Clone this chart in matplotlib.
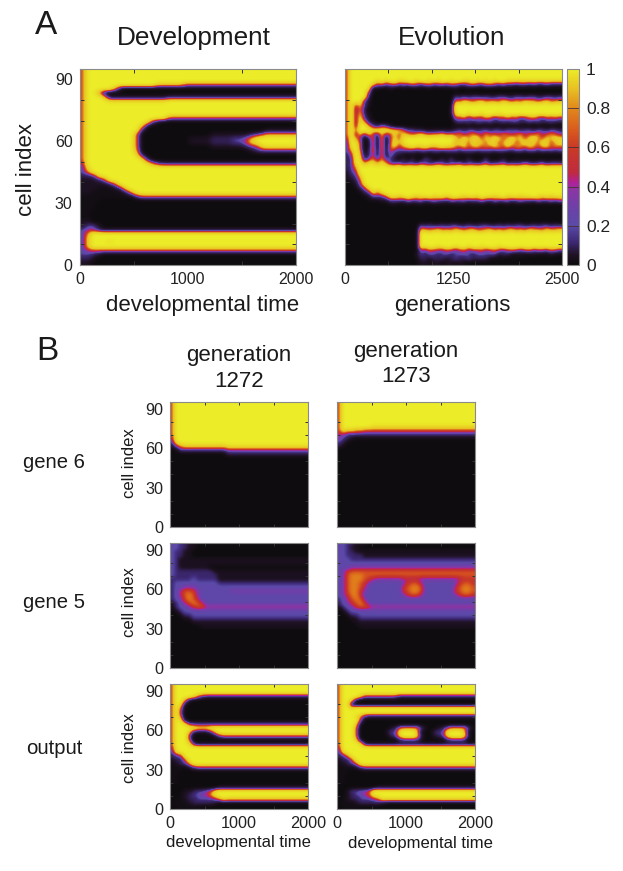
import matplotlib
matplotlib.use('Agg')
import matplotlib.pyplot as plt
import numpy as np
from matplotlib.cm import ScalarMappable
from matplotlib.colors import FuncNorm, LinearSegmentedColormap, Normalize

plt.rcParams['font.family'] = ['Liberation Sans', 'DejaVu Sans']

W, H = 623, 871

# heat maps: one string per row, top row first, a short row
# repeats its last level to the right. digits are d/9, '.' is a faint glow
dev_rows = [
    "5 9", "5 9", "5 9", "5 9",
    "5" + "9"*13 + "77777" + "5",
    "5 9 9 9 9 9 6 1 0",
    "5 9 9 6 1 0",
    "5 9 9 9 7" + "1"*11 + "2",
    "5 9 9 9 9" + "8"*11 + "9",
    "5 9", "5 9", "5 9",
    "5" + "9"*15 + "5",
    "5" + "9"*11 + "8 3 1 0",
    "5" + "9"*10 + "7 1 0",
    "5" + "9"*10 + "2" + "0"*22 + "1",
    "5" + "9"*9 + "5" + "0"*13 + "1"*7 + "2 3 4 6",
    "5" + "9"*9 + "5" + "0"*9 + "1"*4 + "2"*4 + "3 3 4 6 8 9",
    "5" + "9"*9 + "5" + "0"*9 + "1"*4 + "2"*4 + "3 3 4 7 8 9",
    "5" + "9"*9 + "5" + "0"*13 + "1"*6 + "2 3 4 7 8",
    "5" + "9"*9 + "6" + "0"*20 + "1 2 3",
    "5" + "9"*9 + "8 2 0",
    "5" + "9"*10 + "8 2 0",
    "4" + "9"*11 + "8 5 3 2",
    "3 8 9",
    "3 6 9",
    "2 2 3 8 9",
    "1 1 1 2 4 9",
    "1 1 1 1 1 2 5 9",
    "1 1 1 . . . 1 3 8 9",
    "1 1 . . . . . . 2 6 9",
    ". . . . . . . . . . 3 5",
    ". . . . 0", ". . . 0", ". . . 0", ". . 0", ". . 0",
    "1 1 0",
    "1 3 3 1 0",
    "3 4 4 2 1",
    "3 6 9",
    "3 7 9",
    "3 7 9 9 9 8 9",
    "3 7 9",
    "3 4 5",
    "3 3 2 1 0",
    "2 2 1 0",
    "1 1 0",
]

evo_rows = [
    "5 9", "5 9", "5 9",
    "5" + "9"*6 + "8 9 8 9 9 8 8 9 9 8 9 9 8 9 8 9 9 8 9 9 8 8 9 8 9 8 9 8 9 9 8",
    "5 9 9 9 9 9 7 4 5 3 4 5 3 4 3 5 4 3 4 5 3 4 4 3 5 4 3 3 4 5 4 3 5 5 4 3 4 3 3 2 3 3 2 3 2 2 3 2 2 2",
    "5 9 9 9 9 8 0 1 0 0 1 0 0 . 0 0 . 0 0 . 0 0 0 . 0 1 0 0 . 0 0",
    "5 9 9 9 9 4 0",
    "5 9 9 9 9 2" + "0"*19 + "3 2 3 2 3 3 2 3 2 2 3 3 2 2 3 3 2 3 3 2 2 3 3 2 3",
    "5 9 9 9 3 1" + "0"*19 + "6 5 7 6 5 6 7 5 6 6 5 7 6 5 6 5 7 6 6 5 6 7 5 6 6",
    "5 9 4 7 3 1" + "0"*18 + ". 9",
    "5 9 3 6 2 0" + "0"*18 + "1 9",
    "5 9 3 7 2 1" + "0"*18 + "1 8 9 9 8 9 9 8 9 9 9 8 9",
    "5 9 3 8 3 1" + "0"*18 + ". 5 4 6 3 5 4 4 6 5 3 5 4 6 4 5 3 4 5 6 4 3 5 4 5 4",
    "5 9 3 8 6 2 1" + "0"*18 + "2 3 2 3 2 3 3 2 3 2 2 3 2 3 3 2 2 3 2 3 2 2 3 2 2",
    "5 9 3 9 9 6 3 2 4 3 1" + "0"*14 + ". 0 . . 0 . 0 . . 0 . 0 . 0 . . 0",
    "5 9 5 9 9 9 8 9 8 9 8 7 7 5 3 3 2 2 1 1 1 1 1 1 1 2 3 2 3 3 2 3 3 2 3 3 2 3 3 3 2 3 3 2 3 3 2 3 3 2",
    "5 9 3 7 3 7 4 2 7 3 5 7 5 7 6 5 6 7 6 5 6 6 7 5 6 5 6 4 5 6 5 4 6 5 5 4 6 5 4 5 6 4 5 5 6 4 5 6 5 4",
    "4 9 6 4 0 2 6 0 7 0 5 7 5 8" + "9"*11 + "7 5 8 6 7 8 5 7 6 8 7 5 6 8 6 7 5 7 8 6 5 7 6 8 7",
    "3 9 8 5 0 1 6 0 7 0 5 8 6 8" + "9"*11 + "6 8 7 5 8 6 7 5 8 7 5 6 8 7 5 6 8 6 7 5 8 7 5 6 8",
    "3 8 9 5 0 1 6 0 7 0 6 7 4 6 7 8 7 7 8 7 6 7 8 7 7 6 5 7 5 6 7 5 6 5 7 6 5 7 5 6 6 5 7 6 5 6 7 5 6 5",
    "3 6 9 6 0 2 6 1 6 1 5 3 3 3 3 3 2 3 3 2 3 3 2 3 3 3 2 3 3 3 2 3 3 3 2 3 3 2 2 3 3 2 3 3 2 3 2 3 2 3",
    "2 4 9 7 1 2 5 1 6 1 4 2 1 . 0 . . 0 . 0 . . 0 . 0 . . 0 . 0",
    "2 3 9 8 2 4 6 3 6 3 3 1 . 2 . 2 . . 3 2 . . 2 . 3 . . . 2 . . . 3 . . . 2 . . 1 . . . . . .",
    "2 3 8 9 6 8 8 6 8 6 3 3 4 2 3 3 2 4 3 2 3 4 3 2 3 3 4 2 3 3 2 3 4 2 3 3 4 2 3 2 3 4 3 2 3 4 2 3 3 3",
    "2 3 6 9",
    "1 3 4 9",
    "1 2 3 7 9",
    ". 1 2 5 9",
    "0 . 1 4 8 9",
    "0 0 . 2 4 8 9",
    "0 0 0 . 2 3 8 5 8 9",
    "0 0 0 0 . 1 3 3 3 5 8 8 7 8 9 8 7 8 8 9 7 8 8 7 8 9 8 7 8 8 7 9 8 8 7 8 9 7 8 8 7 8 8 9 8 7 8 7 8 8",
    "0 0 0 0 0 . . . 1 1 3 3 3 2 4 3 3 4 2 3 4 3 3 2 4 3 3 4 2 3 3 4 3 2 4 3 3 4 2 3 4 3 3 2 4 3 3 4 3 4",
    "0 0 0 0 0 0 0 0 0 0 . . 0 . . 0 . . . 0 . . 0 . 0 . . 0 . . 0 . 0 0 . 0 0 . 0 . 0",
    "0", "0", "0", "0",
    "0"*17 + "3 2 3 2 2 3 2 3 3 2 2 3 2 2 3 3 2 2 3 2 3 2 3 3 2 2 3 2 3 3 2 3 2",
    "0"*17 + "7 6 5 6 7 5 6 5 7 6 5 6 7 5 5 6 7 5 6 5 6 7 5 6 5 7 6 6 5 7 6 6 7",
    "0"*17 + "9",
    "0"*17 + "9",
    "0"*17 + "9",
    "0"*17 + "9 8 9 9 8 9 9 9 8 9 9 8 9 9 8 9 9 9 8 9",
    "0"*17 + "4 3 5 4 4 3 5 4 3 4 5 3 4 4 5 3 4 5 4 3 4 5 4 3 4 5 3 4 4 3 5 4 3",
    "0"*16 + "1 3 2 3 3 2 3 3 2 3 3 3 3 2 3 3 3 3 3 1 2 2 . . 1 . . 1 . . . 1 . .",
    "0"*16 + ". 2 2 1 2 2 2 1 2 3 2 2 3 2 2 2 2 . . . . 0 . . 0 . 0",
    "0"*17 + "1 1 . 1 1 . 1 1 . 1 . 0",
]

gene6_1272 = [
    "5 9", "5 9", "5 9", "5 9", "5 9", "5 9", "5 9", "5 9", "5 9",
    "4 9",
    "3 8 9",
    "1 4 6" + "7"*10 + "8",
    "0 . 3" + "3"*10 + "4",
    "0"*13 + "2",
] + ["0"]*18

gene6_1273 = [
    "5 9", "5 9", "5 9", "5 9", "5 9", "5 9",
    "5 9 9 9 9 9 9 9 8",
    "5 8 7 7 6 6 5 5",
    "4 4 3 3 3",
    "4 3 2 1 .",
    "3 2 . 0",
    "2 . 0",
] + ["0"]*20

gene5_1272 = [
    "2 2 1 1 . . 0",
    "2 2 1 1 . . 0",
    "2 1 1 . . 0",
    "2 1 1 . . 0",
    "2 1 . . .",
    "2 1 . . .",
    "2 1 . . . . . . . 0",
    "2 1 1 1 1 1 1 1 1 1 .",
    "2 1 1 1 1 1 1 1 1 1 1 .",
    "1 1 1 1 1 2 1 1 1 1 1 .",
    "1 2 2 2 2 2 2 2 2 2 2 1",
    "1 2 2 3 3 3 2",
    "1 2 4 6 6 5 3 2 2 2 2 2 2 2 3",
    "1 2 4 6 7 6 3 2",
    "1 2 3 6 7 6 4 2",
    ". 1 2 4 6 7 6 4 2",
    ". 1 2 2 3 5 6 6 4",
    "0 . 1 2",
    "0 0 . 1 1 2",
    "0 0 0 . . 1",
    "0 0 0 0 0 .",
    "0 0 0 0 0 0 0 .",
] + ["0"]*10

gene5_1273 = [
    "2 2 1 1 . . . 0",
    "2 2 1 . . 0",
    "2 2 1 1 . . .",
    "2 2 1 1 1 1 .",
    "2 2 2 1",
    "2 2 2 2",
    "2 2 2 3",
    "2 3 5 6",
    "2 3 6 7 7 7 6",
    "2 3 6 7 7 7 6 5 4 3 3 3 3 3 3 4 4 4 4 3 3 3 3 3 3 3 3 3 4 5 5 5",
    "2 3 6 7 7 6 5 3 2 2 2 2 2 2 2 3 5 6 6 4 2 2 2 2 2 2 2 3 5 6 6 5",
    "2 3 6 7 7 6 4 2 2 2 2 2 2 2 2 5 6 7 7 6 2 2 2 2 2 2 2 4 6 7 7 6",
    "2 3 6 7 7 5 3 2 2 2 2 2 2 2 2 5 6 7 7 6 2 2 2 2 2 2 2 5 6 7 7 6",
    "2 3 5 7 7 5 2 2 2 2 2 2 2 2 2 3 5 6 6 4 2 2 2 2 2 2 2 3 5 6 6 5",
    "1 2 4 6 7 6 3 2",
    "1 2 3 5 6 7 5 2",
    ". 1 2 3 5 6 6 5 4",
    "0 . 1 2",
    "0 0 . 1 1 2",
    "0 0 0 . . 1",
    "0 0 0 0 .",
    "0 0 0 0 0 .",
] + ["0"]*10

output_1272 = [
    "5 9", "5 9", "5 9",
    "5 9 9 9 9 8 5 3 2",
    "5 9 9 6 1 0",
    "5 9 8 1 0",
    "5 9 5 0",
    "5 9 4 0",
    "5 9 5 0",
    "5 9 8 1 0",
    "5 9 9 8 4 3",
    "5 9 9 9 9 9 8 8 8 9",
    "5 9 9 9 7 2 1 1 1 3 7 9",
    "5 9 9 9 4 0 0 0 0 0 1 4 5",
    "5 9 9 9 5 0",
    "5 9 9 9 8 3 1",
    "4 9",
    "3 8 9",
    "2 3 4 9",
    "1 2 2 5 9",
    ". 1 2 3 6 9",
    ". . . 0 1 3 4",
    ". . . 0",
    ". . 0",
    ". . 0",
    ". . 0",
    "0 0 0 0 0 0 0 0 0 0 0 1",
    "0 0 0 1 1 2 3 3 4 5 8 9",
    "0 0 . 1 2 3 3 4 4 6 8 9",
    "0 . . 1 2 2 3 3 3 3 4 6 8 7",
    ". . . . 1 2 2 2 2 2 1 0",
    "0 . . . . . . 0",
]

output_1273 = [
    "5 9", "5 9", "5 9",
    "5 9 9 9 9 7 4 4 4 4 4 4 4 4 2",
    "5 9 9 7 1 0",
    "5 9 8 1 0",
    "5 9 9 8 9",
    "5 9",
    "5 9 9 9 8 6 3 2",
    "5 9 9 9 9 4 0",
    "5 9 9 9 7 1 0",
    "5 9 9 9 5 0 0 0 0 0 0 0 1 2 5 6 6 6 6 3 1 0 0 1 2 4 6 6 6 6 3 .",
    "5 9 9 9 5 0 0 0 0 0 0 1 3 3 8 9 9 9 7 1 0 0 2 3 3 8 9 9 9 7 1 0",
    "5 9 9 9 5 0 0 0 0 0 0 0 2 3 7 9 9 9 8 2 0 0 1 2 3 7 9 9 9 8 2 0",
    "5 9 9 9 7 1 0 0 0 0 0 0 0 0 2 3 3 3 3 1 0 0 0 0 0 2 3 3 3 3 0",
    "5 9 9 9 9 8 2 1",
    "4 9",
    "3 8 9",
    "2 3 6 9",
    "1 2 2 5 9",
    ". 1 2 3 5 9",
    ". . . . 1 3 4",
    ". . . 0",
    ". . 0",
    ". . 0",
    ". . 0",
    "0 0 0 0 0 0 0 0 0 1",
    "0 0 1 3 3 4 4 5 9",
    "0 0 1 2 3 3 4 5 8 9",
    "0 . 1 2 2 3 3 3 4 5 8",
    ". . . . 1 2 2 2 2 2 1 . 0",
    "0 . . . . 0",
]

cbar_ticks = [0, 0.2, 0.4, 0.6, 0.8, 1]
cbar_labels = ['0', '0.2', '0.4', '0.6', '0.8', '1']

palette = LinearSegmentedColormap.from_list('bar', [
    (0.0, '#0e0c0e'), (0.05, '#1f1224'), (0.12, '#3f2a78'), (0.2, '#5a4aa8'),
    (0.3, '#6f3fa8'), (0.38, '#8a36a4'), (0.42, '#b0209a'), (0.47, '#c02a40'),
    (0.6, '#c93a26'), (0.68, '#d8561e'), (0.8, '#e2881c'), (0.9, '#e8c022'), (1.0, '#ecec28'),
])

# steeper mapping for the on/off panels, gives the thin outline round the yellow
data_knots = [0, 0.12, 0.3, 0.7, 1]
show_knots = [0, 0.05, 0.12, 0.9, 1]
sharp = FuncNorm((lambda v: np.interp(v, data_knots, show_knots),
                  lambda v: np.interp(v, show_knots, data_knots)), vmin=0, vmax=1)
plain = Normalize(vmin=0, vmax=1)


def levels(rows, ncols):
    out = []
    for row in rows:
        row = row.replace(' ', '').ljust(ncols, row.replace(' ', '')[-1])
        out.append([0.04 if ch == '.' else int(ch) / 9 for ch in row[:ncols]])
    return np.array(out)


def px_axes(fig, x0, y0, x1, y1):
    return fig.add_axes([x0 / W, 1 - y1 / H, (x1 - x0) / W, (y1 - y0) / H])


def draw_panel(ax, rows, ncols, xmax, xlabels, norm=sharp, ylabels=True, fs=11.5, length=3):
    ax.imshow(levels(rows, ncols), cmap=palette, norm=norm, aspect='auto',
              extent=(0, xmax, 0, 96), interpolation='bicubic',
              interpolation_stage='data')
    ax.set_ylim(0, 95)
    ax.set_xlim(0, xmax)
    ax.set_xticks(xlabels)
    ax.set_xticklabels([str(v) for v in xlabels], fontsize=fs, color='#222222')
    ax.set_xticks(np.arange(0, xmax + 1, 500), minor=True)
    ax.set_yticks([0, 30, 60, 90])
    ax.set_yticklabels(['0', '30', '60', '90'] if ylabels else [], fontsize=fs, color='#222222')
    ax.set_yticks(np.arange(0, 91, 10), minor=True)
    ax.tick_params(axis='both', which='major', length=0, pad=5)
    ax.tick_params(axis='both', which='minor', direction='in', length=length, width=0.7,
                   color='#333333', top=True, right=True, bottom=True, left=True)
    for sp in ax.spines.values():
        sp.set_color('#8a8a8a')
        sp.set_linewidth(0.8)


fig = plt.figure(figsize=(W / 100, H / 100), dpi=100)


def label(x, y, s, size, rotation=0):
    fig.text(x / W, 1 - y / H, s, fontsize=size, ha='center', va='center',
             rotation=rotation, color='#1a1a1a')


# panel A
ax = px_axes(fig, 79.5, 69, 296, 265)
draw_panel(ax, dev_rows, 40, 2000, [0, 1000, 2000])
ax = px_axes(fig, 345, 69, 562, 265)
draw_panel(ax, evo_rows, 50, 2500, [0, 1250, 2500], ylabels=False)

cax = px_axes(fig, 567, 69, 579, 265)
cbar = fig.colorbar(ScalarMappable(norm=plain, cmap=palette), cax=cax, ticks=cbar_ticks)
cbar.ax.set_yticklabels(cbar_labels, fontsize=12.5, color='#222222')
cbar.ax.tick_params(direction='in', length=8.6, width=0.6, color='#4a3030', left=False, right=True, pad=5)
cbar.outline.set_edgecolor('#8a8a8a')
cbar.outline.set_linewidth(0.8)

# panel B
row_tops = [(402, 527), (543, 668), (684, 809)]
panels = [(gene6_1272, gene6_1273), (gene5_1272, gene5_1273), (output_1272, output_1273)]
row_norms = [sharp, plain, sharp]
for (y0, y1), (left_rows, right_rows), norm in zip(row_tops, panels, row_norms):
    last = y1 == 809
    for (x0, x1), rows in zip([(170, 308), (337, 475)], (left_rows, right_rows)):
        ax = px_axes(fig, x0, y0, x1, y1)
        draw_panel(ax, rows, 32, 2000, [0, 1000, 2000] if last else [], norm=norm,
                   ylabels=x0 == 170, fs=11.7, length=2.5)

label(46, 26, 'A', 24)
label(194, 38, 'Development', 18.8)
label(452, 38, 'Evolution', 18.8)
label(203, 305, 'developmental time', 16)
label(452, 305, 'generations', 16)
label(27, 169, 'cell index', 16, rotation=90)

label(47, 352, 'B', 24)
label(239, 355, 'generation', 16)
label(239, 381, '1272', 16)
label(406, 351, 'generation', 16)
label(406, 377, '1273', 16)
label(54, 462, 'gene 6', 14.6)
label(54, 603, 'gene 5', 14.6)
label(54, 749, 'output', 14.6)
for y in (463, 602, 748):
    label(129, y, 'cell index', 12, rotation=90)
label(238, 842, 'developmental time', 12)
label(420, 843, 'developmental time', 12)

fig.savefig('out.png', dpi=100)
